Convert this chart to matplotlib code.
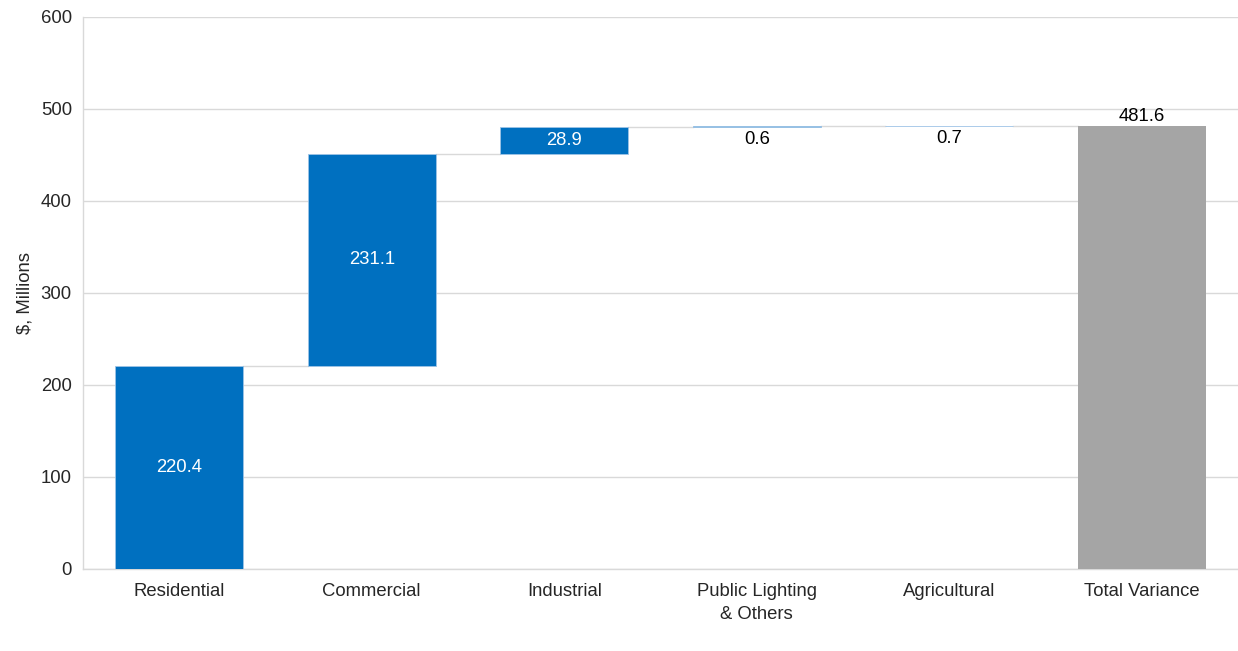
import matplotlib.pyplot as plt

plt.rcParams['font.family'] = ['Liberation Sans', 'DejaVu Sans']

# Dữ liệu chênh lệch doanh thu theo nhóm khách hàng
categories = ["Residential", "Commercial", "Industrial",
              "Public Lighting\n& Others", "Agricultural", "Total Variance"]
changes = [220.4, 231.1, 28.9, 0.6, 0.7]
total = 481.6

blue = "#0070C0"
grey = "#A5A5A5"
grid_col = "#D9D9D9"
fs = 13.3

fig = plt.figure(figsize=(12.38, 6.51), dpi=100)
ax = fig.add_axes([0.067, 0.126, 0.933, 0.848])

width = 0.665
bottoms = []
run = 0
for v in changes:
    bottoms.append(run)
    run += v

x = list(range(len(categories)))
ax.bar(x[:-1], changes, width, bottom=bottoms, color=blue,
       edgecolor="#9DC3E6", linewidth=0.6, zorder=3)
ax.bar(x[-1], total, width, color=grey, zorder=3)

# Đường nối giữa các cột
tops = [b + v for b, v in zip(bottoms, changes)]
for i, t in enumerate(tops):
    ax.plot([i + width / 2, i + 1 - width / 2], [t, t],
            color=grid_col, linewidth=1.0, zorder=2)

# Nhãn giá trị
for i, (b, v) in enumerate(zip(bottoms, changes)):
    if v > 10:
        ax.text(i, b + v / 2, f"{v:.1f}", ha="center", va="center",
                color="white", fontsize=fs, zorder=4)
    else:
        ax.text(i, b - 4, f"{v:.1f}", ha="center", va="top",
                color="black", fontsize=fs, zorder=4)
ax.text(x[-1], total + 1, f"{total:.1f}", ha="center", va="bottom",
        color="black", fontsize=fs, zorder=4)

ax.set_xlim(-0.5, 5.5)
ax.set_ylim(0, 600)
ax.set_yticks(range(0, 601, 100))
ax.set_xticks(x)
ax.set_xticklabels(categories, fontsize=fs, color="#262626", linespacing=1.45)
ax.tick_params(axis="y", labelsize=fs, labelcolor="#262626", length=0, pad=8)
ax.tick_params(axis="x", length=0, pad=10)
ax.set_ylabel("$, Millions", fontsize=fs, color="#262626")
ax.yaxis.set_label_coords(-0.043, 0.5)

ax.grid(axis="y", color=grid_col, linewidth=1.0, zorder=0)
ax.set_axisbelow(True)
for s in ["top", "right"]:
    ax.spines[s].set_visible(False)
ax.spines["left"].set_color(grid_col)
ax.spines["bottom"].set_color(grid_col)
ax.spines["left"].set_linewidth(1.0)
ax.spines["bottom"].set_linewidth(1.0)

plt.savefig("out.png", dpi=100)
plt.close()
